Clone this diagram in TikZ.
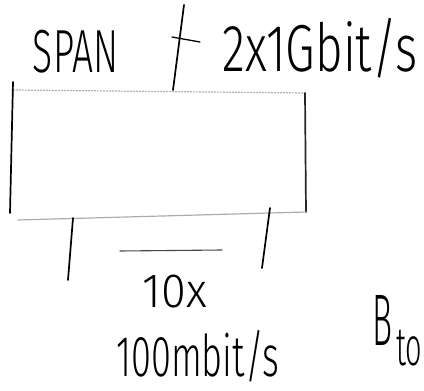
\documentclass[tikz,border=0pt]{standalone}
\usepackage{fontspec}
\setmainfont{Fira Sans}[UprightFont=* Light]
\begin{document}
\begin{tikzpicture}[x=1pt,y=-1pt,
  hand/.style={line width=1.7pt, line cap=round, line join=round, black},
  faint/.style={line width=1.2pt, line cap=round, gray!65},
  dots/.style={line width=1.2pt, gray!60, dash pattern=on 2pt off 1pt},
  lbl/.style={inner sep=0pt, outer sep=0pt, text=black}]
\useasboundingbox (0,0) rectangle (424,391);
% box corners
\coordinate (tl) at (13,90);
\coordinate (tr) at (305,93);
\coordinate (bl) at (10,213);
\coordinate (blb) at (18,220);
\coordinate (br) at (306,212);
\coordinate (ltop) at (13,82);
% box
\draw[dots] (tl) -- (tr);
\draw[hand] (ltop) -- (bl);
\draw[hand, gray!30!black] (tr) -- (br);
\draw[faint] (blb) -- (br);
% top stub with tick
\coordinate (ttop) at (184,5);
\coordinate (tbot) at (173,90);
\draw[hand] (ttop) -- (tbot);
\coordinate (k1) at (172,37);
\coordinate (k2) at (200,42);
\draw[hand, line width=1.3pt] (k1) -- (k2);
% bottom stubs
\coordinate (s1a) at (73,218);
\coordinate (s1b) at (68,280);
\coordinate (s2a) at (270,208);
\coordinate (s2b) at (262,268);
\draw[hand] (s1a) -- (s1b);
\draw[hand] (s2a) -- (s2b);
\coordinate (d1) at (120,251);
\coordinate (d2) at (222,250);
\draw[faint, gray!55!black, line width=1.1pt] (d1) -- (d2);
% labels
\node[lbl] (span) at (75.5,51.5) {\resizebox*{85pt}{43pt}{SPAN}};
\node[lbl] (up) at (320,48) {\resizebox*{195pt}{60pt}{2x1Gbit/s}};
\node[lbl] (ten) at (175,291.5) {\resizebox*{64pt}{33pt}{10x}};
\node[lbl] (down) at (198,356) {\resizebox*{163pt}{52pt}{100mbit/s}};
\node[lbl] (B) at (383,320) {\resizebox*{20pt}{50pt}{B}};
\node[lbl, anchor=west] (to) at (396,348.5) {\resizebox*{26pt}{36pt}{to}};
\end{tikzpicture}
\end{document}
